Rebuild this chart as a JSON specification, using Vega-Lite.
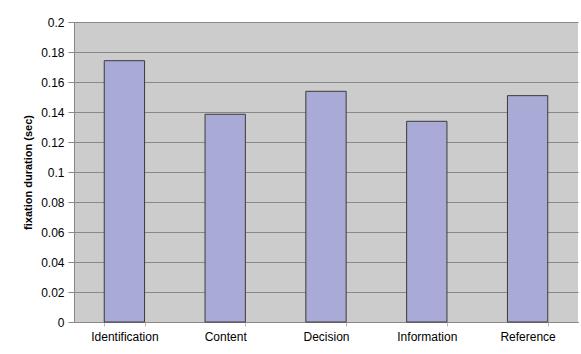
{
  "$schema": "https://vega.github.io/schema/vega-lite/v6.json",
  "width": 504,
  "height": 300,
  "autosize": {"type": "none"},
  "padding": {"left": 74, "top": 22, "right": 3, "bottom": 32},
  "background": "white",
  "config": {
    "view": {"fill": "#cccccc", "stroke": null},
    "font": "Liberation Sans",
    "axis": {"labelFont": "Liberation Sans", "titleFont": "Liberation Sans", "labelColor": "#000000", "titleColor": "#000000"}
  },
  "data": {
    "values": [
      {"category": "Identification", "duration": 0.1742},
      {"category": "Content", "duration": 0.1385},
      {"category": "Decision", "duration": 0.1538},
      {"category": "Information", "duration": 0.1338},
      {"category": "Reference", "duration": 0.1509}
    ]
  },
  "mark": {"type": "bar", "fill": "#aaaad6", "stroke": "#3a3a3a", "strokeWidth": 1},
  "encoding": {
    "x": {
      "field": "category",
      "type": "nominal",
      "sort": null,
      "scale": {"paddingInner": 0.6, "paddingOuter": 0.3},
      "axis": {
        "title": null,
        "labelAngle": 0,
        "labelFontSize": 12,
        "labelPadding": 5,
        "tickBand": "extent",
        "tickSize": 4,
        "tickColor": "#bbbbbb",
        "domainColor": "#888888",
        "grid": false
      }
    },
    "y": {
      "field": "duration",
      "type": "quantitative",
      "scale": {"domain": [0, 0.2], "nice": false},
      "axis": {
        "title": "fixation duration (sec)",
        "titleFontSize": 11,
        "titleFontWeight": "bold",
        "titlePadding": 7,
        "values": [0, 0.02, 0.04, 0.06, 0.08, 0.1, 0.12, 0.14, 0.16, 0.18, 0.2],
        "format": "~g",
        "labelFontSize": 12,
        "labelPadding": 4,
        "tickSize": 6,
        "tickColor": "#888888",
        "domainColor": "#888888",
        "grid": true,
        "gridColor": "#888888",
        "gridWidth": 1,
        "gridOpacity": 1
      }
    }
  }
}
